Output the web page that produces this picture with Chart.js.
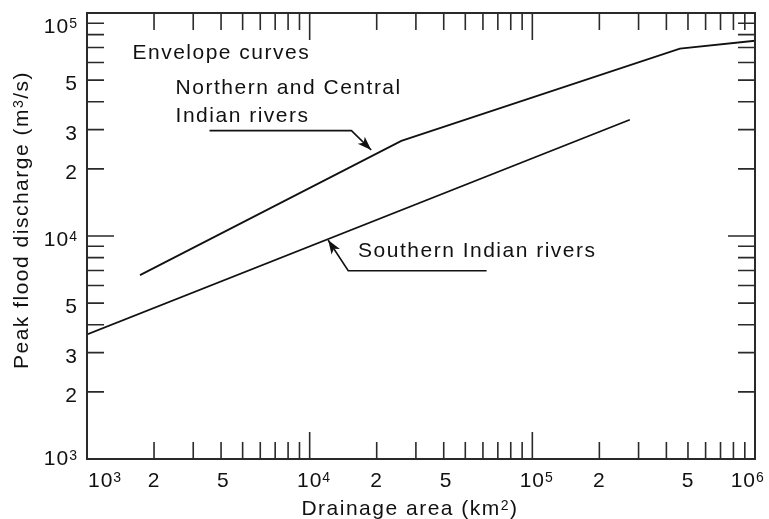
<!DOCTYPE html>
<html>
<head>
<meta charset="utf-8">
<script src="https://cdn.jsdelivr.net/npm/chart.js@4.4.0/dist/chart.umd.min.js"></script>
<style>
html, body { margin: 0; padding: 0; background: #fff; }
#wrap { width: 769px; height: 519px; position: relative; }
</style>
</head>
<body>
<div id="wrap"><canvas id="c"></canvas></div>
<script>
// envelope curves: drainage area (km2) vs peak flood discharge (m3/s)
var northArea = [1730, 25800, 460000, 1000000];
var northPeak = [6680, 26700, 69200, 75100];
var southArea = [1000, 274000];
var southPeak = [3620, 33200];

// tick labels (where the figure puts them)
var xLabelVals = [1e3, 2e3, 4.1e3, 1e4, 2e4, 4.1e4, 1e5, 2e5, 5e5, 1e6];
var xLabelText = [['10', '3'], ['2'], ['5'], ['10', '4'], ['2'], ['5'], ['10', '5'], ['2'], ['5'], ['10', '6']];
var yLabelVals = [1e3, 2e3, 3e3, 5e3, 1e4, 2e4, 3e4, 5e4, 1e5];
var yLabelText = [['10', '3'], ['2'], ['3'], ['5'], ['10', '4'], ['2'], ['3'], ['5'], ['10', '5']];

// annotations, in data coordinates
var notes = [
  { text: 'Envelope curves', x: 1600, y: 62100 },
  { text: 'Northern and Central', x: 2500, y: 43300 },
  { text: 'Indian rivers', x: 2500, y: 32600 },
  { text: 'Southern Indian rivers', x: 16500, y: 8020 }
];
var arrows = [
  [[3550, 29700], [15400, 29700], [18900, 24300]],
  [[62300, 6990], [14900, 6990], [12100, 9600]]
];

var FONT = '"Liberation Sans", Arial, sans-serif';
var INK = '#111';

function setFont(ctx, size, spacing) {
  ctx.font = size + 'px ' + FONT;
  ctx.letterSpacing = spacing + 'px';
}

// parts: [[text, isSup], ...]
function rich(ctx, parts, x, y, align, size, spacing) {
  var w = 0, widths = [];
  parts.forEach(function (p) {
    setFont(ctx, p[1] ? Math.round(size * 0.68) : size, spacing);
    var pw = ctx.measureText(p[0]).width;
    widths.push(pw);
    w += pw;
  });
  var sx = align === 'center' ? x - w / 2 : align === 'right' ? x - w : x;
  ctx.textAlign = 'left';
  ctx.textBaseline = 'alphabetic';
  parts.forEach(function (p, i) {
    setFont(ctx, p[1] ? Math.round(size * 0.68) : size, spacing);
    ctx.fillText(p[0], sx, p[1] ? y - size * 0.25 : y);
    sx += widths[i];
  });
}

var frame = {
  id: 'frame',
  afterDraw: function (chart) {
    var ctx = chart.ctx, a = chart.chartArea;
    var xs = chart.scales.x, ys = chart.scales.y;
    ctx.save();
    ctx.strokeStyle = '#2a2a2a';
    ctx.fillStyle = INK;
    ctx.lineWidth = 2;
    ctx.strokeRect(a.left, a.top, a.right - a.left, a.bottom - a.top);

    // inward ticks on all four sides
    ctx.lineWidth = 1.6;
    ctx.beginPath();
    [1e3, 1e4, 1e5].forEach(function (d) {
      for (var m = 2; m <= 10; m++) {
        var v = d * m;
        if (v >= 1e6) continue;
        var len = m === 10 ? 27 : 17;
        var px = xs.getPixelForValue(v);
        ctx.moveTo(px, a.bottom); ctx.lineTo(px, a.bottom - len);
        ctx.moveTo(px, a.top); ctx.lineTo(px, a.top + len);
      }
    });
    [1e3, 1e4].forEach(function (d) {
      for (var m = 2; m <= 10; m++) {
        var v = d * m;
        if (v >= 1e5) continue;
        var len = m === 10 ? 27 : 17;
        var py = ys.getPixelForValue(v);
        ctx.moveTo(a.left, py); ctx.lineTo(a.left + len, py);
        ctx.moveTo(a.right, py); ctx.lineTo(a.right - len, py);
      }
    });
    ctx.stroke();

    // x tick labels
    xLabelVals.forEach(function (v, i) {
      var t = xLabelText[i];
      var px = xs.getPixelForValue(v);
      setFont(ctx, 21, 1);
      var bw = ctx.measureText(t[0]).width;
      var cx = Math.min(Math.max(px, a.left + bw / 2 + 1), a.right - bw / 2 + 1);
      var parts = [[t[0], false]];
      if (t[1]) parts.push([t[1], true]);
      rich(ctx, parts, cx - bw / 2, a.bottom + 28, 'left', 21, 1);
    });

    // y tick labels
    yLabelVals.forEach(function (v, i) {
      var t = yLabelText[i];
      var py = ys.getPixelForValue(v) + 3;
      py = Math.max(py, a.top + 13);
      py = Math.min(py, a.bottom - 1);
      var parts = [[t[0], false]];
      if (t[1]) parts.push([t[1], true]);
      rich(ctx, parts, 78, py + 7, 'right', 21, 1);
    });

    // axis titles
    rich(ctx, [['Drainage area (km', false], ['2', true], [')', false]],
      (a.left + a.right) / 2 - 11, a.bottom + 56, 'center', 21, 1.5);
    ctx.save();
    ctx.translate(28, (a.top + a.bottom) / 2 - 16);
    ctx.rotate(-Math.PI / 2);
    rich(ctx, [['Peak flood discharge (m', false], ['3', true], ['/s)', false]], 0, 0, 'center', 21, 1.5);
    ctx.restore();

    // annotations
    notes.forEach(function (n) {
      rich(ctx, [[n.text, false]], xs.getPixelForValue(n.x), ys.getPixelForValue(n.y), 'left', 21, 1.5);
    });
    ctx.strokeStyle = INK;
    ctx.lineWidth = 1.6;
    arrows.forEach(function (pts) {
      var p = pts.map(function (q) { return [xs.getPixelForValue(q[0]), ys.getPixelForValue(q[1])]; });
      ctx.beginPath();
      ctx.moveTo(p[0][0], p[0][1]);
      for (var k = 1; k < p.length; k++) ctx.lineTo(p[k][0], p[k][1]);
      ctx.stroke();
      var tip = p[p.length - 1], prev = p[p.length - 2];
      var ang = Math.atan2(tip[1] - prev[1], tip[0] - prev[0]);
      var L = 14, W = 5;
      ctx.beginPath();
      ctx.moveTo(tip[0], tip[1]);
      ctx.lineTo(tip[0] - L * Math.cos(ang) + W * Math.sin(ang), tip[1] - L * Math.sin(ang) - W * Math.cos(ang));
      ctx.lineTo(tip[0] - L * 0.75 * Math.cos(ang), tip[1] - L * 0.75 * Math.sin(ang));
      ctx.lineTo(tip[0] - L * Math.cos(ang) - W * Math.sin(ang), tip[1] - L * Math.sin(ang) + W * Math.cos(ang));
      ctx.closePath();
      ctx.fill();
    });
    ctx.restore();
  }
};

function pairs(xv, yv) {
  return xv.map(function (v, i) { return { x: v, y: yv[i] }; });
}

new Chart(document.getElementById('c'), {
  type: 'line',
  data: {
    datasets: [
      {
        label: 'Northern and Central Indian rivers',
        data: pairs(northArea, northPeak),
        borderColor: INK,
        borderWidth: 1.8,
        pointRadius: 0,
        tension: 0,
        fill: false
      },
      {
        label: 'Southern Indian rivers',
        data: pairs(southArea, southPeak),
        borderColor: INK,
        borderWidth: 1.8,
        pointRadius: 0,
        tension: 0,
        fill: false
      }
    ]
  },
  options: {
    responsive: true,
    maintainAspectRatio: false,
    animation: false,
    layout: { padding: { left: 87, right: 14, top: 13, bottom: 60 } },
    plugins: { legend: { display: false }, tooltip: { enabled: false } },
    scales: {
      x: { type: 'logarithmic', min: 1000, max: 1000000, display: false },
      y: { type: 'logarithmic', min: 1000, max: 100000, display: false }
    }
  },
  plugins: [frame]
});
</script>
</body>
</html>
